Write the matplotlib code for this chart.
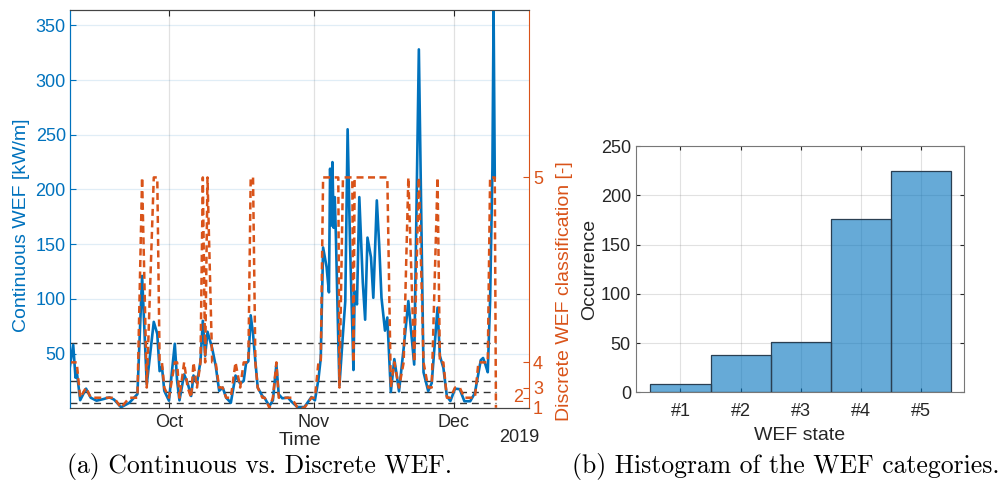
import matplotlib
matplotlib.use('Agg')
import matplotlib.pyplot as plt
import matplotlib.dates as mdates
import matplotlib.transforms as mtransforms
import numpy as np
import pandas as pd

plt.rcParams['font.family'] = ['Liberation Sans', 'DejaVu Sans']

# continuous WEF, time in days from 1 Oct 2019
t_days = [-21.25, -20.5, -20.0, -19.75, -19.0, -17.75, -16.75, -15.5, -14.0, -12.75,
          -11.75, -10.25, -8.5, -6.75, -5.75, -4.75, -3.25, -2.5, -2.0, -1.5,
          -1.0, 0.0, 1.25, 1.75, 2.25, 3.25, 4.0, 4.75, 5.25, 6.0,
          6.75, 7.25, 7.75, 8.25, 9.25, 10.0, 10.75, 11.5, 12.25, 13.25,
          14.25, 15.25, 16.0, 16.5, 17.0, 17.5, 18.0, 18.5, 19.0, 20.0,
          20.5, 21.5, 22.25, 23.0, 23.5, 24.25, 25.5, 26.25, 27.5, 29.0,
          30.5, 31.25, 32.0, 32.5, 33.0, 33.75, 34.25, 34.5, 34.75, 35.0,
          35.25, 35.5, 35.75, 36.25, 36.5, 37.25, 37.75, 38.25, 38.75, 39.25,
          39.5, 39.75, 40.25, 40.75, 41.5, 42.0, 42.5, 43.25, 43.75, 44.5,
          45.0, 45.5, 46.25, 46.75, 47.5, 48.25, 49.25, 50.25, 51.25, 52.5,
          53.5, 54.5, 55.5, 56.25, 57.5, 58.0, 58.75, 59.5, 60.25, 61.25,
          62.25, 63.25, 64.5, 65.5, 66.25, 66.75, 67.25, 67.75, 68.25, 68.75,
          69.25, 69.5, 69.75, 70.0]
wef = [37, 58, 28, 34, 7.5, 18, 9.7, 7, 8.5, 10,
       8, 1, 5, 13, 121, 22, 79, 68, 34, 38,
       16, 7, 59, 25, 7.3, 31, 23, 11.3, 30, 23,
       43, 80, 48, 70, 55, 39, 16, 19, 9.7, 5.1,
       30, 22.6, 25, 41, 43, 85, 68, 43, 19, 11.3,
       9.2, 2.1, 7.3, 40, 12.8, 9.2, 9.7, 6, 1.2, 1.2,
       10.3, 7.3, 26.5, 46, 147, 129, 106, 219, 167, 225,
       165, 193, 156, 62, 21, 68, 98, 255, 153, 74,
       35, 107, 95, 193, 115, 81, 156, 138, 101, 190,
       150, 101, 71, 83, 15, 45, 15.5, 55, 98, 40,
       328, 33, 15.8, 23, 92, 48, 37, 11, 6.7, 18,
       17.5, 6.5, 6.5, 14, 32, 44, 46, 40, 33, 98,
       220, 364, 211, np.nan]
# discrete WEF state
wef_class = [4, 4, 4, 4, 2, 3, 2, 2, 2, 2,
             2, 1, 2, 2, 5, 3, 5, 5, 4, 4,
             3, 2, 4, 4, 2, 4, 3, 2, 4, 3,
             4, 5, 4, 5, 4, 4, 3, 3, 2, 2,
             4, 3, 4, 4, 4, 5, 5, 4, 3, 2,
             2, 1, 2, 4, 2, 2, 2, 2, 1, 1,
             2, 2, 4, 4, 5, 5, 5, 5, 5, 5,
             5, 5, 5, 5, 3, 5, 5, 5, 5, 5,
             4, 5, 5, 5, 5, 5, 5, 5, 5, 5,
             5, 5, 5, 5, 3, 4, 3, 4, 5, 4,
             5, 4, 3, 3, 5, 4, 4, 2, 2, 3,
             3, 2, 2, 2, 4, 4, 4, 4, 4, 5,
             5, 5, 5, 1]
class_level = [0.5, 9.7, 19.0, 42.0, 211.0]
class_names = ['1', '2', '3', '4', '5']
thresholds = [5, 15, 25, 60]

states = ['#1', '#2', '#3', '#4', '#5']
occurrence = [8, 38, 51, 176, 225]

blue = '#0072BD'
orange = '#D95319'
txt = '#262626'

t0 = pd.Timestamp('2019-10-01')
t = t0 + pd.to_timedelta(t_days, unit='D')
disc = [class_level[c - 1] for c in wef_class]

fig = plt.figure(figsize=(10.06, 4.87), dpi=100)

# (a) time series
ax = fig.add_axes([0.0696, 0.1622, 0.4562, 0.8173])
ax.hlines(thresholds, t[0], t[-1], colors='#333333', linestyles=(0, (5, 3.5)), linewidth=1.0, zorder=2)
ax.plot(t, wef, color=blue, linewidth=1.9, zorder=3)
ax.plot(t, disc, color=orange, linewidth=1.8, linestyle=(0, (2.8, 1.8)), zorder=4)

ax.set_xlim(t0 - pd.Timedelta(days=21.18), t0 + pd.Timedelta(days=77.07))
ax.set_ylim(0.3, 364)
ax.set_yticks([50, 100, 150, 200, 250, 300, 350])
ax.xaxis.set_major_locator(mdates.MonthLocator())
ax.xaxis.set_major_formatter(mdates.DateFormatter('%b'))
ax.tick_params(axis='x', direction='in', length=4, colors=txt, labelsize=13, top=True, pad=4)
ax.tick_params(axis='y', direction='in', length=4, colors=blue, labelcolor=blue, labelsize=13, pad=3)
ax.grid(True, axis='y', color=blue, alpha=0.12, linewidth=0.9)
ax.grid(True, axis='x', color='#888888', alpha=0.25, linewidth=0.9)
ax.set_axisbelow(True)
ax.set_xlabel('Time', fontsize=14, color=txt, labelpad=1)
ax.set_ylabel('Continuous WEF [kW/m]', fontsize=14, color=blue)
ax.yaxis.set_label_coords(-0.088, 0.46)
for s in ['top', 'bottom']:
    ax.spines[s].set_color('#444444')
ax.spines['left'].set_color(blue)
ax.spines['right'].set_visible(False)
ax.text(0.978, -0.075, '2019', transform=ax.transAxes, ha='center', va='center', fontsize=13, color=txt)

ax2 = ax.twinx()
ax2.set_ylim(ax.get_ylim())
ax2.set_yticks(class_level)
# label "2" sits just inside the axis in the original to avoid the 1/3 labels
ax2.set_yticklabels([n if n != '2' else '' for n in class_names])
ax2.tick_params(axis='y', direction='in', length=4, colors=orange, labelcolor=orange, labelsize=13, pad=3)
trans = mtransforms.blended_transform_factory(ax2.transAxes, ax2.transData)
ax2.text(0.988, class_level[1], class_names[1], transform=trans, ha='right', va='center',
         fontsize=13, color=orange)
ax2.spines['right'].set_color(orange)
ax2.spines['left'].set_color(blue)
for s in ['top', 'bottom']:
    ax2.spines[s].set_color('#444444')
ax2.set_ylabel('Discrete WEF classification [-]', fontsize=14, color=orange)
ax2.yaxis.set_label_coords(1.060, 0.294)

# (b) histogram
bx = fig.add_axes([0.632, 0.1944, 0.326, 0.5058])
x = np.arange(1, len(states) + 1)
bx.bar(x, occurrence, width=1.0, color=blue, alpha=0.6, edgecolor='none', zorder=2)
bx.bar(x, occurrence, width=1.0, facecolor='none', edgecolor='#2a3f52', linewidth=0.9, zorder=3)
bx.set_xlim(0.255, 5.72)
bx.set_ylim(0, 250)
bx.set_xticks(x)
bx.set_xticklabels(states)
bx.set_yticks([0, 50, 100, 150, 200, 250])
bx.tick_params(direction='in', length=3, colors=txt, labelsize=13, top=True, right=True)
bx.tick_params(axis='x', pad=8)
bx.grid(True, color='#888888', alpha=0.25, linewidth=0.8)
bx.set_axisbelow(True)
for s in bx.spines.values():
    s.set_color('#777777')
bx.set_xlabel('WEF state', fontsize=14, color=txt, labelpad=5)
bx.set_ylabel('Occurrence', fontsize=14, color=txt, labelpad=2)

# sub-captions
fig.text(0.258, 0.043, '(a) Continuous vs. Discrete WEF.', ha='center', va='center',
         fontsize=18.5, family='cmr10')
fig.text(0.781, 0.043, '(b) Histogram of the WEF categories.', ha='center', va='center',
         fontsize=18.5, family='cmr10')

fig.savefig('out.png', dpi=100)
